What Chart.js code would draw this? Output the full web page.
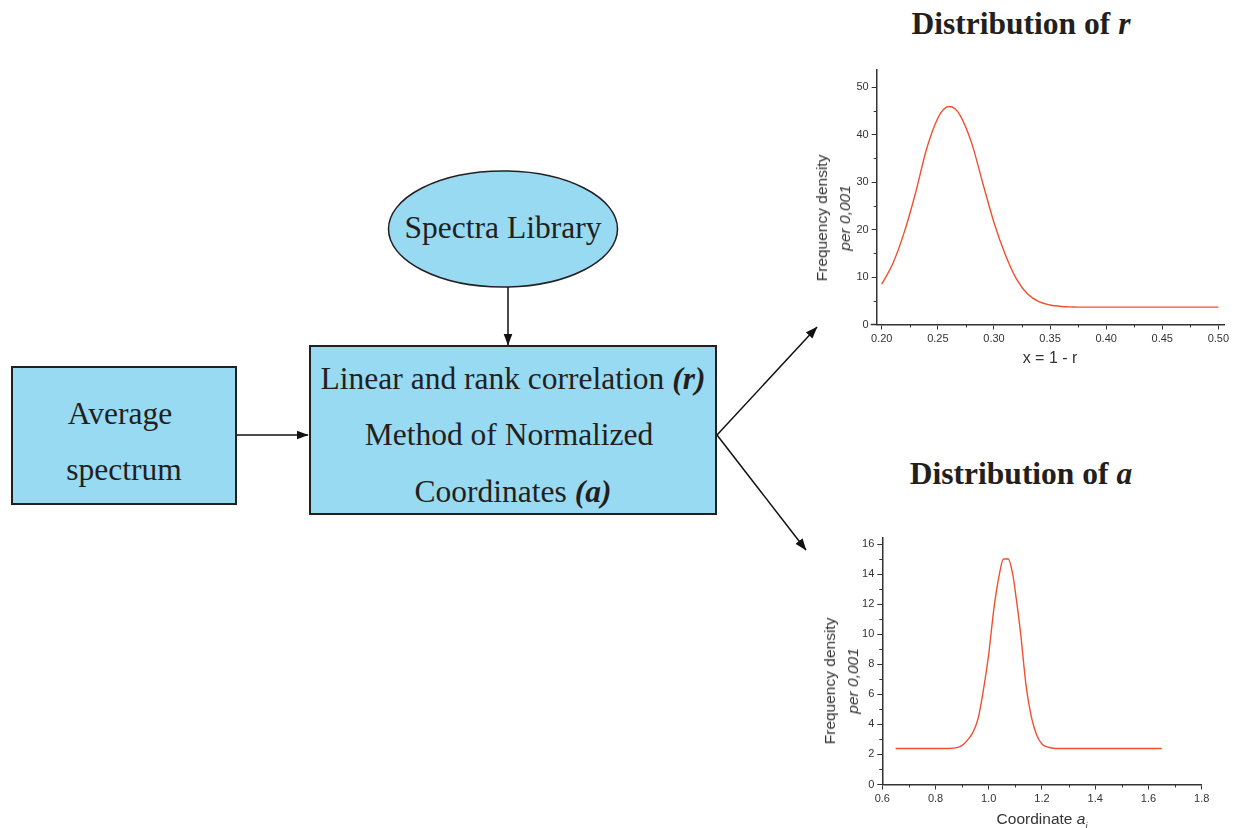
<!DOCTYPE html>
<html>
<head>
<meta charset="utf-8">
<script src="https://cdn.jsdelivr.net/npm/chart.js@4.4.0/dist/chart.umd.min.js"></script>
<style>
  html, body { margin: 0; padding: 0; background: #fff; }
  #page { position: relative; width: 1236px; height: 828px; overflow: hidden; background: #fff; color: #231f20; }
  svg.shapes { position: absolute; left: 0; top: 0; }
  .t { position: absolute; white-space: nowrap; transform: translate(-50%, -50%); line-height: 1; }
  .serif { font-family: "Liberation Serif", "Times New Roman", serif; font-size: 31.5px; }
  .head { font-family: "Liberation Serif", "Times New Roman", serif; font-size: 31.5px; font-weight: bold; }
  .sans { font-family: "Liberation Sans", Arial, sans-serif; color: #333; }
  .ytitle { position: absolute; white-space: nowrap; text-align: center; line-height: 23px; font-size: 15.5px;
            transform: translate(-50%, -50%) rotate(-90deg); }
  canvas { position: absolute; }
</style>
</head>
<body>
<div id="page">
  <svg class="shapes" width="1236" height="828" viewBox="0 0 1236 828">
    <defs>
      <marker id="ah" markerWidth="12" markerHeight="10" refX="11.5" refY="5" orient="auto" markerUnits="userSpaceOnUse">
        <path d="M0,0.5 L12,5 L0,9.5 Z" fill="#111"/>
      </marker>
    </defs>
    <rect x="12" y="367" width="224" height="137" fill="#99daf3" stroke="#231f20" stroke-width="2"/>
    <rect x="310" y="346" width="406" height="168" fill="#99daf3" stroke="#231f20" stroke-width="2"/>
    <ellipse cx="503" cy="229" rx="114.5" ry="58" fill="#99daf3" stroke="#231f20" stroke-width="1.5"/>
    <g stroke="#111" stroke-width="1.5" fill="none" marker-end="url(#ah)">
      <line x1="508" y1="287" x2="508" y2="345"/>
      <line x1="237" y1="435" x2="308" y2="435"/>
      <line x1="717" y1="435" x2="817" y2="327"/>
      <line x1="717" y1="435" x2="806" y2="550"/>
    </g>
  </svg>

  <div class="t serif" style="left:503px; top:228px;">Spectra Library</div>
  <div class="t serif" style="left:120px; top:414px;">Average</div>
  <div class="t serif" style="left:124px; top:470px;">spectrum</div>
  <div class="t serif" style="left:513px; top:379px;">Linear and rank correlation <b><i>(r)</i></b></div>
  <div class="t serif" style="left:509px; top:435px;">Method of Normalized</div>
  <div class="t serif" style="left:513px; top:492px;">Coordinates <b><i>(a)</i></b></div>

  <div class="t head" style="left:1021px; top:24px;">Distribution of <i>r</i></div>
  <div class="t head" style="left:1021px; top:474px;">Distribution of <i>a</i></div>

  <canvas id="chartR" width="446" height="300" style="left:790px; top:58px;"></canvas>
  <canvas id="chartA" width="446" height="290" style="left:790px; top:526px;"></canvas>

  <div class="ytitle sans" style="left:832.5px; top:217.5px;">Frequency density<br><i>per 0,001</i></div>
  <div class="t sans" style="left:1050px; top:357.5px; font-size:16px;">x = 1 - r</div>

  <div class="ytitle sans" style="left:841px; top:681px;">Frequency density<br><i>per 0,001</i></div>
  <div class="t sans" style="left:1042px; top:821px; font-size:15.5px;">Coordinate <i>a</i><sub style="font-size:9px;"><i>i</i></sub></div>
</div>

<script>
// Distribution of r: density against x = 1 - r
const rX       = [0.20, 0.21, 0.22, 0.23, 0.24, 0.25, 0.255, 0.26, 0.265, 0.27, 0.28, 0.29, 0.30, 0.31, 0.32, 0.33, 0.34, 0.35, 0.36, 0.37, 0.38, 0.40, 0.45, 0.50];
const rDensity = [8.5,  12.9, 19.4, 27.6, 37.0, 43.5, 45.3,  45.9, 45.5,  44.0, 38.3, 29.8, 21.5, 14.8, 9.6,  6.4,  4.8,  4.1,  3.8,  3.7,  3.65, 3.65, 3.65, 3.65];
const rTicksX  = [0.20, 0.25, 0.30, 0.35, 0.40, 0.45, 0.50];
const rTicksY  = [0, 10, 20, 30, 40, 50];

// Distribution of a: density against coordinate a_i
const aX       = [0.65, 0.75, 0.85, 0.88, 0.90, 0.92, 0.94, 0.96, 0.98, 1.00, 1.02, 1.04, 1.055, 1.073, 1.09, 1.10, 1.12, 1.14, 1.16, 1.18, 1.20, 1.22, 1.25, 1.35, 1.50, 1.65];
const aDensity = [2.4,  2.4,  2.4,  2.45, 2.6,  2.95, 3.45, 4.4,  6.3,  8.7,  11.8, 14.0, 15.0,  15.0,  14.0, 12.8, 10.0, 6.6,  4.5,  3.3,  2.7,  2.5,  2.4,  2.4,  2.4,  2.4];
const aTicksX  = [0.6, 0.8, 1.0, 1.2, 1.4, 1.6, 1.8];
const aTicksY  = [0, 2, 4, 6, 8, 10, 12, 14, 16];

const CURVE = '#f0502e';
const AXIS = '#333333';

// midpoints between major ticks, drawn as short minor ticks
function midpoints(t) {
  const out = [];
  for (let i = 0; i < t.length - 1; i++) out.push((t[i] + t[i + 1]) / 2);
  return out;
}

const minorTicks = {
  id: 'minorTicks',
  afterDraw(chart, args, opts) {
    const { ctx } = chart;
    const xs = chart.scales.x, ys = chart.scales.y;
    ctx.save();
    ctx.strokeStyle = AXIS;
    ctx.lineWidth = 1;
    ctx.beginPath();
    (opts.x || []).forEach(v => {
      const px = Math.round(xs.getPixelForValue(v)) + 0.5;
      ctx.moveTo(px, xs.top); ctx.lineTo(px, xs.top + 3);
    });
    (opts.y || []).forEach(v => {
      const py = Math.round(ys.getPixelForValue(v)) + 0.5;
      ctx.moveTo(ys.right, py); ctx.lineTo(ys.right - 3, py);
    });
    ctx.stroke();
    if (opts.overhang) {
      ctx.lineWidth = 1.5;
      ctx.beginPath();
      ctx.moveTo(xs.left - opts.overhang, xs.top);
      ctx.lineTo(xs.left, xs.top);
      ctx.stroke();
    }
    ctx.restore();
  }
};

function makeChart(id, xs, ys, xTicks, yTicks, cfg) {
  const tickFont = { family: '"Liberation Sans", Arial, sans-serif', size: 11 };
  return new Chart(document.getElementById(id), {
    type: 'line',
    data: {
      datasets: [{
        data: xs.map((x, i) => ({ x: x, y: ys[i] })),
        borderColor: CURVE,
        borderWidth: 1.4,
        pointRadius: 0,
        fill: false,
        cubicInterpolationMode: 'monotone'
      }]
    },
    plugins: [minorTicks],
    options: {
      responsive: false,
      animation: false,
      devicePixelRatio: 1,
      layout: { padding: cfg.padding },
      plugins: {
        legend: { display: false },
        tooltip: { enabled: false },
        minorTicks: { x: midpoints(xTicks), y: midpoints(yTicks), overhang: cfg.overhang || 0 }
      },
      scales: {
        x: {
          type: 'linear',
          min: cfg.xMin, max: cfg.xMax,
          afterBuildTicks: s => { s.ticks = xTicks.map(v => ({ value: v })); },
          afterFit: s => { s.height = cfg.xHeight; },
          ticks: { font: tickFont, color: AXIS, padding: 3, maxRotation: 0, autoSkip: false,
                   callback: v => v.toFixed(cfg.xDigits) },
          grid: { drawOnChartArea: false, tickLength: 5, color: AXIS, tickWidth: 1 },
          border: { color: AXIS, width: 1.5 }
        },
        y: {
          type: 'linear',
          min: 0, max: cfg.yMax,
          afterBuildTicks: s => { s.ticks = yTicks.map(v => ({ value: v })); },
          afterFit: s => { s.width = cfg.yWidth; },
          ticks: { font: tickFont, color: AXIS, padding: 3, autoSkip: false, callback: v => String(v) },
          grid: { drawOnChartArea: false, tickLength: 5, color: AXIS, tickWidth: 1 },
          border: { color: AXIS, width: 1.5 }
        }
      }
    }
  });
}

makeChart('chartR', rX, rDensity, rTicksX, rTicksY, {
  padding: { top: 12, right: 12, left: 0, bottom: 0 },
  xMin: 0.1955, xMax: 0.505, yMax: 53.6,
  xHeight: 33.5, yWidth: 86.7, xDigits: 2, overhang: 6
});

makeChart('chartA', aX, aDensity, aTicksX, aTicksY, {
  padding: { top: 12, right: 34.3, left: 0, bottom: 0 },
  xMin: 0.6, xMax: 1.8, yMax: 16.4,
  xHeight: 31.5, yWidth: 92.3, xDigits: 1
});
</script>
</body>
</html>
